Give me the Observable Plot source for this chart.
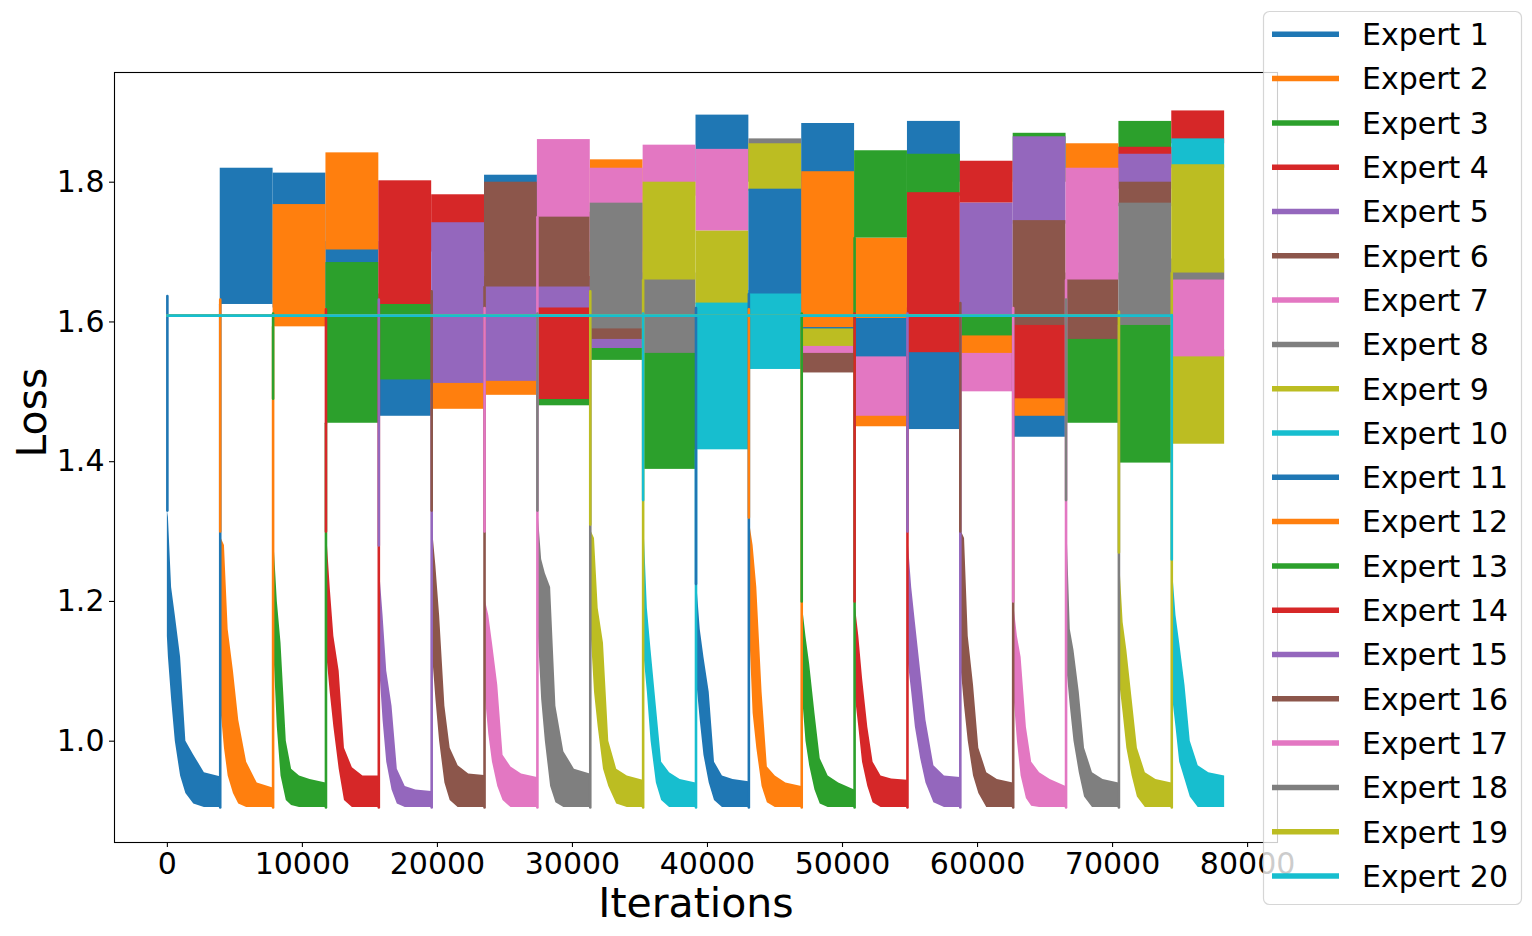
<!DOCTYPE html>
<html>
<head>
<meta charset="utf-8">
<script src="https://cdn.jsdelivr.net/npm/d3@7"></script>
<script src="https://cdn.jsdelivr.net/npm/@observablehq/plot@0.6"></script>
<style>
  body { margin: 0; background: white; }
  #wrap { position: relative; width: 1532px; height: 936px; font-family: "DejaVu Sans", sans-serif; }
  #legend { position: absolute; left: 0; top: 0; pointer-events: none; }
</style>
</head>
<body>
<div id="wrap"></div>
<script>
// ---------------- data ----------------
const experts = ["Expert 1","Expert 2","Expert 3","Expert 4","Expert 5","Expert 6","Expert 7","Expert 8","Expert 9","Expert 10",
                 "Expert 11","Expert 12","Expert 13","Expert 14","Expert 15","Expert 16","Expert 17","Expert 18","Expert 19","Expert 20"];
const palette = ["#1f77b4","#ff7f0e","#2ca02c","#d62728","#9467bd","#8c564b","#e377c2","#7f7f7f","#bcbd22","#17becf"];

// iteration at which each task (expert) starts; last value = end of training
const taskBounds = [0, 3915, 7830, 11745, 15660, 19575, 23490, 27405, 31320, 35235, 39150,
                    43065, 46980, 50895, 54810, 58725, 62640, 66555, 70470, 74385, 78300];

const xTicks = [0, 10000, 20000, 30000, 40000, 50000, 60000, 70000, 80000];
const yTicks = [1.0, 1.2, 1.4, 1.6, 1.8];

// loss of an untrained expert
const initialLoss = 1.609;
// first loss value when an expert starts training
const startPeak = [1.637, 1.632, 1.612, 1.618, 1.632, 1.644, 1.62, 1.612, 1.644, 1.612,
                   1.62, 1.618, 1.612, 1.612, 1.612, 1.627, 1.62, 1.632, 1.615, 1.61];

// training curve: fraction of the task's iterations
const decayFrac = [0, 0.02, 0.08, 0.15, 0.25, 0.35, 0.5, 0.7, 1.0];
// upper / lower envelope of the noisy training loss, per expert
const decayUpper = [
  [1.33, 1.32, 1.22, 1.18, 1.12, 1.00, 0.98, 0.955, 0.949],
  [1.30, 1.29, 1.28, 1.16, 1.10, 1.03, 0.97, 0.94, 0.933],
  [1.49, 1.28, 1.20, 1.14, 1.00, 0.96, 0.95, 0.945, 0.94],
  [1.30, 1.29, 1.22, 1.15, 1.10, 0.99, 0.962, 0.95, 0.95],
  [1.28, 1.24, 1.18, 1.10, 1.05, 0.96, 0.935, 0.93, 0.928],
  [1.33, 1.30, 1.25, 1.18, 1.05, 0.99, 0.965, 0.953, 0.951],
  [1.30, 1.20, 1.18, 1.14, 1.08, 0.98, 0.963, 0.953, 0.948],
  [1.33, 1.32, 1.26, 1.24, 1.22, 1.05, 0.985, 0.96, 0.953],
  [1.31, 1.30, 1.29, 1.19, 1.14, 1.00, 0.96, 0.95, 0.944],
  [1.345, 1.30, 1.19, 1.13, 1.05, 0.97, 0.955, 0.945, 0.94],
  [1.225, 1.22, 1.16, 1.12, 1.07, 0.97, 0.95, 0.945, 0.942],
  [1.32, 1.31, 1.28, 1.22, 1.07, 0.963, 0.95, 0.94, 0.935],
  [1.20, 1.19, 1.15, 1.11, 1.04, 0.975, 0.95, 0.94, 0.93],
  [1.20, 1.19, 1.15, 1.09, 1.02, 0.97, 0.95, 0.946, 0.944],
  [1.30, 1.28, 1.22, 1.17, 1.10, 1.03, 0.965, 0.95, 0.948],
  [1.30, 1.30, 1.29, 1.15, 1.08, 0.99, 0.955, 0.945, 0.94],
  [1.20, 1.19, 1.15, 1.12, 1.02, 0.97, 0.955, 0.945, 0.935],
  [1.345, 1.30, 1.16, 1.13, 1.07, 0.99, 0.955, 0.945, 0.94],
  [1.27, 1.25, 1.17, 1.13, 1.06, 0.99, 0.955, 0.945, 0.94],
  [1.26, 1.24, 1.18, 1.14, 1.08, 1.00, 0.965, 0.955, 0.95]
];
const decayLower = [
  [1.15, 1.12, 1.06, 1.00, 0.95, 0.925, 0.91, 0.905, 0.905],
  [1.10, 1.04, 0.99, 0.95, 0.925, 0.91, 0.905, 0.905, 0.905],
  [1.27, 1.12, 1.02, 0.95, 0.915, 0.908, 0.905, 0.905, 0.905],
  [1.15, 1.12, 1.07, 1.02, 0.96, 0.915, 0.905, 0.905, 0.905],
  [1.12, 1.10, 1.03, 0.97, 0.93, 0.91, 0.905, 0.905, 0.905],
  [1.15, 1.12, 1.06, 1.00, 0.94, 0.915, 0.905, 0.905, 0.905],
  [1.11, 1.06, 1.01, 0.97, 0.935, 0.915, 0.905, 0.905, 0.905],
  [1.17, 1.15, 1.06, 1.00, 0.935, 0.912, 0.905, 0.905, 0.905],
  [1.16, 1.15, 1.07, 1.02, 0.96, 0.935, 0.91, 0.905, 0.905],
  [1.15, 1.12, 1.07, 1.00, 0.94, 0.915, 0.905, 0.905, 0.905],
  [1.09, 1.08, 1.03, 0.98, 0.94, 0.915, 0.905, 0.905, 0.905],
  [1.19, 1.15, 1.04, 0.99, 0.935, 0.912, 0.905, 0.905, 0.905],
  [1.07, 1.06, 1.00, 0.965, 0.93, 0.91, 0.905, 0.905, 0.905],
  [1.08, 1.06, 1.02, 0.97, 0.935, 0.912, 0.905, 0.905, 0.905],
  [1.13, 1.11, 1.07, 1.02, 0.975, 0.94, 0.912, 0.905, 0.905],
  [1.12, 1.10, 1.05, 1.00, 0.95, 0.925, 0.905, 0.905, 0.905],
  [1.08, 1.06, 1.00, 0.95, 0.918, 0.907, 0.905, 0.905, 0.905],
  [1.12, 1.10, 1.05, 1.00, 0.955, 0.92, 0.905, 0.905, 0.905],
  [1.10, 1.08, 1.04, 0.99, 0.95, 0.92, 0.905, 0.905, 0.905],
  [1.08, 1.06, 1.02, 0.97, 0.945, 0.92, 0.905, 0.905, 0.905]
];

// loss band (low, high) of an already-trained expert during a later task
// [task number, expert number, low, high]
const bands = [
  [2,1,1.625,1.82],
  [3,1,1.62,1.813],[3,2,1.593,1.768],
  [4,1,1.55,1.715],[4,2,1.703,1.842],[4,3,1.455,1.685],
  [5,1,1.465,1.55],[5,3,1.517,1.64],[5,4,1.625,1.802],
  [6,2,1.475,1.6],[6,4,1.7,1.782],[6,5,1.512,1.742],
  [7,1,1.7,1.81],[7,2,1.495,1.6],[7,5,1.515,1.665],[7,6,1.65,1.80],
  [8,3,1.48,1.55],[8,4,1.489,1.665],[8,5,1.62,1.66],[8,6,1.65,1.757],[8,7,1.75,1.861],
  [9,2,1.6,1.832],[9,3,1.545,1.58],[9,5,1.562,1.59],[9,6,1.575,1.6],[9,7,1.7,1.82],[9,8,1.59,1.77],
  [10,3,1.389,1.56],[10,7,1.78,1.853],[10,8,1.555,1.67],[10,9,1.66,1.80],
  [11,1,1.8,1.896],[11,7,1.73,1.847],[11,9,1.625,1.73],[11,10,1.417,1.627],
  [12,8,1.8,1.862],[12,9,1.787,1.855],[12,10,1.532,1.645],[12,11,1.64,1.79],
  [13,6,1.527,1.56],[13,7,1.555,1.58],[13,9,1.565,1.6],[13,11,1.59,1.884],[13,12,1.592,1.815],
  [14,2,1.45,1.5],[14,7,1.465,1.56],[14,11,1.55,1.62],[14,12,1.605,1.72],[14,13,1.72,1.845],
  [15,1,1.8,1.887],[15,11,1.446,1.56],[15,13,1.78,1.84],[15,14,1.556,1.785],
  [16,7,1.5,1.57],[16,12,1.555,1.6],[16,13,1.58,1.615],[16,14,1.77,1.83],[16,15,1.61,1.77],
  [17,11,1.435,1.49],[17,12,1.465,1.52],[17,13,1.8,1.87],[17,14,1.49,1.6],[17,15,1.74,1.865],[17,16,1.595,1.745],
  [18,12,1.8,1.855],[18,13,1.455,1.59],[18,16,1.575,1.67],[18,17,1.66,1.82],
  [19,3,1.84,1.887],[19,13,1.398,1.6],[19,14,1.8,1.85],[19,15,1.79,1.84],[19,16,1.765,1.8],[19,18,1.595,1.77],
  [20,4,1.855,1.902],[20,9,1.425,1.56],[20,10,1.82,1.862],[20,17,1.55,1.67],[20,18,1.66,1.69],[20,19,1.67,1.825]
];

// ---------------- build tables ----------------
const colorOf = e => palette[(e - 1) % 10];

const bandRows = bands
  .map(([task, e, lo, hi]) => ({task, e, x1: taskBounds[task - 1], x2: taskBounds[task], lo, hi, color: colorOf(e)}))
  .sort((a, b) => a.e - b.e || a.task - b.task);

const decayRows = [];
const lineRows = [];
experts.forEach((name, k) => {
  const e = k + 1, s = taskBounds[k], end = taskBounds[k + 1], color = colorOf(e);
  decayFrac.forEach((f, i) => {
    decayRows.push({e, x: s + f * (end - s), lo: decayLower[k][i], hi: decayUpper[k][i], color});
  });
  const startPath = "s" + e;
  if (k > 0) {
    lineRows.push({path: startPath, x: taskBounds[0], y: initialLoss, color});
    lineRows.push({path: startPath, x: s, y: initialLoss, color});
  }
  lineRows.push({path: startPath, x: s, y: startPeak[k], color});
  lineRows.push({path: startPath, x: s, y: decayUpper[k][0], color});
  const next = bands.find(b => b[0] === e + 1 && b[1] === e);
  if (next) {
    const endPath = "j" + e;
    lineRows.push({path: endPath, x: end, y: decayLower[k][decayFrac.length - 1], color});
    lineRows.push({path: endPath, x: end, y: next[2], color});
  }
});
// draw paths in expert order, jumps of expert k before start of expert k+1
const pathOrder = [];
experts.forEach((n, k) => { pathOrder.push("j" + (k)); pathOrder.push("s" + (k + 1)); });
lineRows.sort((a, b) => pathOrder.indexOf(a.path) - pathOrder.indexOf(b.path));

// ---------------- chart ----------------
const chart = Plot.plot({
  width: 1532,
  height: 936,
  marginLeft: 114,
  marginRight: 255,
  marginTop: 72,
  marginBottom: 94,
  x: {domain: [-3915, 82215]},
  y: {domain: [0.855, 1.957]},
  color: {type: "identity"},
  style: {fontFamily: "DejaVu Sans", fontSize: "30px", background: "white", color: "black", overflow: "visible"},
  marks: [
    Plot.rect(bandRows, {x1: "x1", x2: "x2", y1: "lo", y2: "hi", fill: "color"}),
    Plot.areaY(decayRows, {x: "x", y1: "lo", y2: "hi", z: "e", fill: "color", curve: "linear"}),
    Plot.line(lineRows, {x: "x", y: "y", z: "path", stroke: "color", strokeWidth: 2.6, curve: "linear"}),
    Plot.axisX({ticks: xTicks, tickFormat: d3.format("d"), tickSize: 5, tickPadding: 5, fontSize: 30, label: null, strokeWidth: 1.1}),
    Plot.axisY({ticks: yTicks, tickFormat: d3.format(".1f"), tickSize: 5, tickPadding: 5, fontSize: 30, label: null, strokeWidth: 1.1}),
    Plot.frame({stroke: "black", strokeWidth: 1.1}),
    Plot.text(["Iterations"], {text: d => d, frameAnchor: "bottom", dy: 61, fontSize: 41, lineAnchor: "middle"}),
    Plot.text(["Loss"], {text: d => d, frameAnchor: "left", dx: -82, rotate: -90, fontSize: 41, lineAnchor: "middle"})
  ]
});
const wrap = document.getElementById("wrap");
wrap.appendChild(chart);

// ---------------- legend (overlay on the right) ----------------
const leg = d3.select(wrap).append("svg")
  .attr("id", "legend").attr("width", 1532).attr("height", 936);
leg.append("rect")
  .attr("x", 1263.5).attr("y", 11.5).attr("width", 258).attr("height", 893).attr("rx", 6)
  .attr("fill", "white").attr("fill-opacity", 0.8)
  .attr("stroke", "#cccccc").attr("stroke-opacity", 0.8).attr("stroke-width", 1.2);
const rows = leg.selectAll("g.row").data(experts).join("g").attr("class", "row")
  .attr("transform", (d, i) => `translate(0,${34.3 + 44.3 * i})`);
rows.append("line").attr("x1", 1272).attr("x2", 1339).attr("y1", 0).attr("y2", 0)
  .attr("stroke", (d, i) => colorOf(i + 1)).attr("stroke-width", 5.5);
rows.append("text").attr("x", 1362).attr("y", 0).attr("dy", "0.36em")
  .attr("font-family", "DejaVu Sans").attr("font-size", 30).attr("fill", "black")
  .text(d => d);
</script>
</body>
</html>
